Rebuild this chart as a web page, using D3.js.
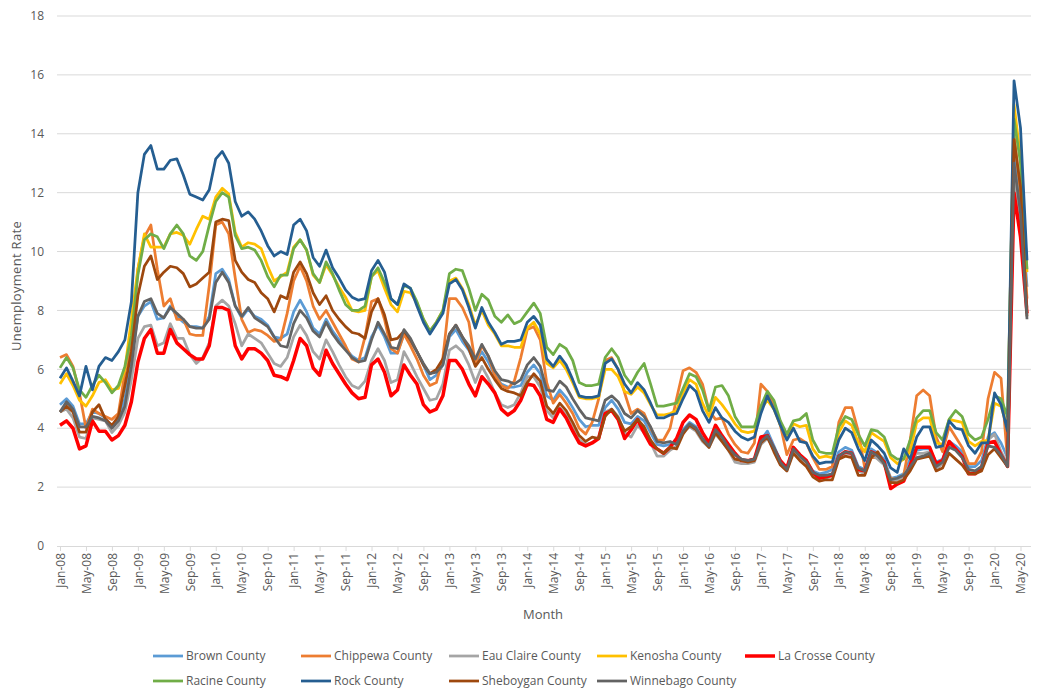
<!DOCTYPE html>
<html>
<head>
<meta charset="utf-8">
<script src="https://cdn.jsdelivr.net/npm/d3@7"></script>
<style>
  body { margin: 0; background: #fff; }
  #chart text { font-family: "Open Sans", "Liberation Sans", sans-serif; fill: #595959; }
</style>
</head>
<body>
<div id="chart"></div>
<script>
// monthly unemployment rate, Jan-08 .. Jun-20 (one row per year)
const brown = [
  4.8, 5.0, 4.75, 4.15, 4.15, 4.55, 4.5, 4.35, 4.05, 4.35, 5.0, 6.35,
  7.8, 8.15, 8.3, 7.7, 7.75, 8.15, 7.8, 7.6, 7.45, 7.45, 7.4, 7.8,
  9.25, 9.4, 9.05, 8.15, 7.75, 8.05, 7.8, 7.7, 7.5, 7.1, 7.05, 7.2,
  7.95, 8.35, 7.95, 7.4, 7.2, 7.7, 7.3, 7.0, 6.7, 6.45, 6.3, 6.4,
  7.1, 7.5, 7.1, 6.55, 6.55, 7.2, 6.95, 6.6, 6.15, 5.65, 5.8, 6.15,
  7.1, 7.35, 6.95, 6.65, 6.2, 6.6, 6.25, 5.8, 5.5, 5.4, 5.4, 5.45,
  5.9, 6.15, 5.85, 5.1, 4.95, 5.3, 5.05, 4.7, 4.3, 4.05, 4.1, 4.1,
  4.7, 4.95, 4.65, 4.2, 4.15, 4.4, 4.25, 3.85, 3.45, 3.4, 3.45, 3.5,
  3.95, 4.2, 4.05, 3.65, 3.4, 3.95, 3.7, 3.35, 3.1, 2.95, 2.9, 2.95,
  3.6, 3.9, 3.4, 2.9, 2.65, 3.35, 3.1, 2.9, 2.55, 2.45, 2.5, 2.6,
  3.2, 3.35, 3.25, 2.7, 2.6, 3.3, 3.15, 2.95, 2.3, 2.35, 2.45, 2.95,
  3.25, 3.3, 3.3, 2.85, 2.95, 3.55, 3.4, 3.2, 2.7, 2.7, 2.9, 3.7,
  3.85, 3.5, 3.0, 13.5, 11.8, 8.8
];
const chippewa = [
  6.4, 6.5, 6.1, 5.2, 4.0, 4.65, 4.5, 4.4, 4.3, 4.5, 5.9, 6.8,
  9.4, 10.5, 10.9, 9.4, 8.15, 8.4, 7.7, 7.7, 7.2, 7.15, 7.15, 8.85,
  10.9, 11.0, 10.6, 9.1, 7.7, 7.25, 7.35, 7.3, 7.15, 6.95, 7.0, 7.9,
  9.0, 9.5, 9.0, 8.15, 7.7, 8.0, 7.6, 7.2, 6.8, 6.35, 6.25, 7.1,
  8.3, 8.4, 7.7, 6.7, 6.55, 7.2, 6.8, 6.35, 5.8, 5.45, 5.55, 6.4,
  8.4, 8.4, 8.1, 7.6, 6.2, 6.8, 6.45, 5.8, 5.45, 5.35, 5.6, 6.4,
  7.35, 7.45, 7.0, 5.55, 4.85, 5.15, 4.85, 4.5, 4.0, 3.8, 4.2, 5.0,
  6.3, 6.4, 6.0, 5.2, 4.5, 4.65, 4.5, 4.0, 3.6, 3.6, 4.0, 5.0,
  5.95, 6.05, 5.9, 5.5, 4.6, 4.3, 4.35, 3.8, 3.45, 3.2, 3.15, 3.5,
  5.5, 5.25, 4.8, 4.1, 3.1, 3.6, 3.65, 3.5, 3.0, 2.6, 2.6, 2.7,
  4.2, 4.7, 4.7, 3.9, 2.65, 3.0, 3.0, 2.8, 2.3, 2.25, 2.4, 3.6,
  5.1, 5.3, 5.1, 3.7, 3.2, 4.05, 3.7, 3.35, 2.8, 2.8, 3.2, 5.0,
  5.9, 5.7, 2.9, 14.0, 12.0, 8.4
];
const eauClaire = [
  4.55, 4.65, 4.35, 3.7, 3.65, 4.35, 4.3, 4.25, 3.85, 4.1, 4.55, 5.65,
  7.05, 7.45, 7.5, 6.8, 6.9, 7.55, 7.05, 7.05, 6.5, 6.2, 6.4, 6.9,
  8.15, 8.35, 8.15, 7.55, 6.8, 7.2, 7.05, 6.9, 6.55, 6.2, 6.1, 6.4,
  7.1, 7.5, 7.15, 6.6, 6.35, 7.0, 6.6, 6.15, 5.75, 5.45, 5.35, 5.6,
  6.3, 6.7, 6.3, 5.55, 5.65, 6.6, 6.2, 5.75, 5.35, 4.95, 5.0, 5.5,
  6.65, 6.8, 6.6, 6.15, 5.55, 6.1, 5.7, 5.2, 4.8, 4.7, 4.8, 5.2,
  5.75, 5.75, 5.4, 4.6, 4.35, 4.7, 4.45, 4.0, 3.6, 3.45, 3.5, 3.7,
  4.55, 4.65, 4.4, 3.85, 3.7, 4.1, 3.85, 3.5, 3.05, 3.05, 3.25, 3.4,
  3.85, 4.05, 3.9, 3.55, 3.35, 3.8, 3.55, 3.25, 2.85, 2.8, 2.8, 2.85,
  3.45, 3.65, 3.3, 2.8, 2.55, 3.25, 3.0, 2.8, 2.4, 2.3, 2.3, 2.4,
  3.0, 3.15, 3.1, 2.55, 2.45, 3.1, 2.95, 2.75, 2.2, 2.25, 2.35, 2.8,
  3.15, 3.15, 3.2, 2.6, 2.8, 3.4, 3.3, 3.05, 2.55, 2.5, 2.7, 3.6,
  3.8, 3.2, 2.8, 12.7, 11.0, 8.1
];
const kenosha = [
  5.5, 5.85, 5.45, 4.95, 4.75, 5.1, 5.55, 5.65, 5.3, 5.35, 6.0, 7.7,
  9.4, 10.6, 10.15, 10.15, 10.15, 10.6, 10.65, 10.55, 10.25, 10.75, 11.2, 11.1,
  11.85, 12.15, 11.95, 10.65, 10.15, 10.3, 10.25, 10.1, 9.5, 9.0, 9.15, 9.3,
  10.15, 10.4, 10.05, 9.2, 8.95, 9.55, 9.2, 8.8, 8.45, 8.0, 7.95, 8.0,
  9.15, 9.35, 8.75, 8.2, 7.95, 8.65, 8.6, 8.25, 7.7, 7.3, 7.6, 8.0,
  9.0, 9.1, 8.75, 8.2, 7.5, 8.0, 7.5, 7.2, 6.8, 6.8, 6.75, 6.75,
  7.4, 7.6, 7.2, 6.2, 6.05, 6.3, 6.0, 5.55, 5.05, 5.0, 5.0, 5.05,
  6.0, 6.0, 5.75, 5.25, 5.15, 5.4, 5.2, 4.8, 4.45, 4.45, 4.5, 4.6,
  5.2, 5.65, 5.5, 4.85, 4.4, 5.05, 4.8, 4.5, 4.15, 3.9, 3.85, 3.9,
  4.65, 4.95, 4.65, 4.1, 3.7, 4.15, 4.05, 4.1, 3.3, 3.0, 3.05, 3.0,
  3.85, 4.25, 4.1, 3.5, 3.2, 3.85, 3.7, 3.55, 3.0, 2.8, 2.95, 3.2,
  4.2, 4.35, 4.35, 3.5, 3.45, 4.3, 4.25, 4.2, 3.55, 3.4, 3.55, 3.6,
  4.85, 4.75, 4.0, 15.0, 13.2, 9.3
];
const laCrosse = [
  4.1, 4.25, 4.0, 3.3, 3.4, 4.25, 3.9, 3.9, 3.6, 3.75, 4.1, 4.9,
  6.25, 7.05, 7.35, 6.55, 6.55, 7.35, 6.9, 6.7, 6.5, 6.35, 6.35, 6.8,
  8.1, 8.1, 8.0, 6.8, 6.35, 6.7, 6.7, 6.55, 6.3, 5.8, 5.75, 5.65,
  6.3, 7.05, 6.8, 6.05, 5.8, 6.65, 6.2, 5.85, 5.5, 5.2, 5.0, 5.05,
  6.15, 6.35, 5.9, 5.1, 5.3, 6.15, 5.8, 5.5, 4.8, 4.55, 4.65, 5.1,
  6.3, 6.3, 6.0, 5.5, 5.1, 5.75, 5.5, 5.2, 4.65, 4.45, 4.6, 4.95,
  5.5, 5.45, 5.1, 4.3, 4.2, 4.65, 4.35, 3.9, 3.5, 3.4, 3.5, 3.65,
  4.5, 4.6, 4.3, 3.65, 3.95, 4.3, 3.85, 3.45, 3.3, 3.15, 3.35, 3.65,
  4.2, 4.45, 4.3, 3.85, 3.5, 4.1, 3.75, 3.45, 3.15, 2.9, 2.9, 2.95,
  3.7, 3.75, 3.3, 2.9, 2.65, 3.35, 3.1, 2.9, 2.5, 2.3, 2.35, 2.4,
  3.05, 3.2, 3.15, 2.6, 2.55, 3.2, 3.1, 2.85, 1.95, 2.1, 2.2, 2.75,
  3.35, 3.35, 3.35, 2.8, 2.9, 3.55, 3.3, 3.05, 2.45, 2.45, 2.65, 3.5,
  3.55, 3.1, 2.7, 12.0, 10.5, 7.9
];
const racine = [
  6.05, 6.4, 6.05, 5.3, 5.05, 5.45, 5.8, 5.55, 5.2, 5.45, 6.1, 7.15,
  9.2, 10.4, 10.6, 10.5, 10.1, 10.6, 10.9, 10.6, 9.85, 9.7, 10.0, 10.9,
  11.7, 12.0, 11.85, 10.55, 10.1, 10.15, 10.05, 9.7, 9.15, 8.8, 9.2, 9.2,
  10.1, 10.4, 10.05, 9.25, 8.95, 9.65, 9.25, 8.7, 8.2, 8.0, 8.0, 8.15,
  9.15, 9.45, 8.95, 8.4, 8.2, 8.85, 8.75, 8.3, 7.7, 7.3, 7.6, 8.0,
  9.25, 9.4, 9.35, 8.75, 8.0, 8.55, 8.35, 7.8, 7.6, 7.85, 7.55, 7.65,
  7.95, 8.25, 7.9, 6.75, 6.5, 6.85, 6.7, 6.3, 5.55, 5.45, 5.45, 5.5,
  6.4, 6.7, 6.4, 5.8, 5.5, 5.9, 6.2, 5.5, 4.75, 4.75, 4.8, 4.85,
  5.35, 5.85, 5.75, 5.3, 4.6, 5.4, 5.45, 5.1, 4.4, 4.05, 4.05, 4.05,
  4.75, 5.25, 4.95, 4.25, 3.8, 4.25, 4.3, 4.5, 3.6, 3.2, 3.15, 3.15,
  4.05, 4.4, 4.3, 3.8, 3.4, 3.95, 3.9, 3.7, 3.1, 2.95, 2.95, 3.6,
  4.35, 4.6, 4.6, 3.85, 3.6, 4.3, 4.6, 4.4, 3.8, 3.6, 3.7, 4.3,
  5.1, 5.0, 4.4, 14.5, 13.0, 9.4
];
const rock = [
  5.7, 6.05, 5.6, 5.1, 6.1, 5.3, 6.1, 6.4, 6.3, 6.6, 7.0, 8.3,
  12.0, 13.3, 13.6, 12.8, 12.8, 13.1, 13.15, 12.6, 11.95, 11.85, 11.75, 12.1,
  13.15, 13.4, 13.0, 11.7, 11.2, 11.35, 11.1, 10.7, 10.2, 9.85, 10.0, 9.9,
  10.9, 11.1, 10.7, 9.8, 9.5, 10.05, 9.45, 9.1, 8.7, 8.45, 8.35, 8.4,
  9.35, 9.7, 9.3, 8.4, 8.2, 8.9, 8.75, 8.15, 7.6, 7.2, 7.55, 7.9,
  8.9, 9.05, 8.7, 8.1, 7.4, 8.1, 7.6, 7.25, 6.85, 6.95, 6.95, 7.0,
  7.6, 7.8, 7.5, 6.35, 6.1, 6.45, 6.15, 5.65, 5.1, 5.05, 5.05, 5.1,
  6.2, 6.35, 6.0, 5.5, 5.2, 5.55, 5.3, 4.85, 4.35, 4.35, 4.45, 4.5,
  5.0, 5.45, 5.25, 4.6, 4.2, 4.7, 4.35, 4.2, 3.9, 3.7, 3.6, 3.7,
  4.5, 5.1, 4.65, 4.1, 3.6, 4.0, 3.55, 3.5, 3.05, 2.8, 2.85, 2.85,
  3.6, 4.0, 3.85, 3.3, 2.9, 3.6, 3.4, 3.15, 2.65, 2.5, 3.3, 2.95,
  3.7, 4.05, 4.05, 3.35, 3.4, 4.25, 4.0, 3.95, 3.4, 3.15, 3.5, 3.5,
  5.2, 4.8, 3.9, 15.8, 14.2, 9.7
];
const sheboygan = [
  4.55, 4.75, 4.55, 3.87, 3.87, 4.55, 4.8, 4.3, 4.1, 4.4, 5.45, 6.6,
  8.5, 9.5, 9.85, 9.05, 9.3, 9.5, 9.45, 9.25, 8.8, 8.9, 9.1, 9.3,
  11.0, 11.1, 11.05, 9.7, 9.3, 9.05, 8.95, 8.6, 8.4, 7.95, 8.5, 8.4,
  9.3, 9.65, 9.25, 8.6, 8.2, 8.5, 8.0, 7.7, 7.45, 7.25, 7.2, 7.05,
  7.95, 8.4, 7.85, 7.0, 7.05, 7.3, 7.0, 6.6, 6.15, 5.85, 6.0, 6.35,
  7.2, 7.5, 7.1, 6.7, 6.1, 6.4, 6.0, 5.65, 5.35, 5.25, 5.2, 5.1,
  5.55, 5.85, 5.6, 4.75, 4.5, 4.85, 4.6, 4.2, 3.75, 3.55, 3.7, 3.65,
  4.4, 4.65, 4.35, 3.9, 4.05, 4.3, 4.05, 3.6, 3.3, 3.15, 3.35, 3.3,
  3.8, 4.1, 3.95, 3.6, 3.35, 3.85, 3.55, 3.25, 2.95, 2.9, 2.85, 2.9,
  3.5, 3.7, 3.2, 2.75, 2.55, 3.15, 2.9, 2.7, 2.35, 2.2, 2.25, 2.25,
  2.95, 3.05, 3.0, 2.4, 2.4, 3.0, 3.2, 2.8, 2.15, 2.15, 2.25, 2.55,
  2.95, 3.0, 3.05, 2.55, 2.65, 3.15, 2.95, 2.75, 2.45, 2.45, 2.55, 3.1,
  3.3, 3.0, 2.7, 13.8, 12.2, 7.8
];
const winnebago = [
  4.55, 4.9, 4.65, 4.05, 4.05, 4.4, 4.35, 4.25, 4.0, 4.25, 4.75, 6.1,
  7.8, 8.3, 8.4, 7.9, 7.75, 8.1, 7.9, 7.7, 7.45, 7.4, 7.4, 7.7,
  8.95, 9.3, 8.95, 8.15, 7.8, 8.1, 7.75, 7.6, 7.45, 7.1, 6.8, 6.75,
  7.55, 8.0, 7.75, 7.3, 7.1, 7.6, 7.2, 6.9, 6.65, 6.4, 6.25, 6.3,
  7.0, 7.6, 7.2, 6.75, 6.7, 7.35, 7.05, 6.6, 6.2, 5.85, 5.9, 6.15,
  7.2, 7.5, 7.1, 6.8, 6.35, 6.85, 6.45, 5.95, 5.65, 5.6, 5.5, 5.65,
  6.15, 6.4, 6.1, 5.3, 5.25, 5.6, 5.4, 5.0, 4.65, 4.35, 4.3, 4.25,
  4.95, 5.1, 4.9, 4.5, 4.35, 4.6, 4.4, 4.05, 3.55, 3.5, 3.55, 3.45,
  3.9, 4.15, 4.0, 3.65, 3.4, 3.95, 3.7, 3.35, 3.1, 2.95, 2.9, 2.95,
  3.55, 3.75, 3.35, 2.85, 2.6, 3.3, 3.05, 2.85, 2.5, 2.4, 2.4, 2.45,
  3.05, 3.2, 3.15, 2.65, 2.55, 3.2, 3.05, 2.8, 2.25, 2.3, 2.4, 2.7,
  3.0, 3.05, 3.15, 2.7, 2.85, 3.35, 3.25, 3.0, 2.6, 2.55, 2.7, 3.4,
  3.35, 3.1, 2.7, 13.0, 11.3, 7.7
];

const counties = ["Brown County", "Chippewa County", "Eau Claire County", "Kenosha County", "La Crosse County",
                  "Racine County", "Rock County", "Sheboygan County", "Winnebago County"];
const seriesValues = [brown, chippewa, eauClaire, kenosha, laCrosse, racine, rock, sheboygan, winnebago];
const colors = ["#5B9BD5", "#ED7D31", "#A5A5A5", "#FFC000", "#FF0000", "#70AD47", "#255E91", "#9E480E", "#636363"];
const yTicks = [0, 2, 4, 6, 8, 10, 12, 14, 16, 18];

// month labels Jan-08 .. Jun-20
const fmt = d3.timeFormat("%b-%y");
const months = d3.timeMonths(new Date(2008, 0, 1), new Date(2020, 6, 1)).map(fmt);

const width = 1037, height = 691;
const svg = d3.select("#chart").append("svg")
    .attr("width", width)
    .attr("height", height);

const x = d3.scalePoint().domain(months).range([60, 1027]);
const y = d3.scaleLinear().domain([0, 18]).range([546, 16]);

// gridlines
svg.append("g")
    .selectAll("line")
    .data(yTicks.slice(1))
    .enter().append("line")
    .attr("x1", 57).attr("x2", 1031)
    .attr("y1", d => y(d)).attr("y2", d => y(d))
    .style("stroke", "#d9d9d9")
    .style("stroke-width", 1);

// y labels
svg.append("g")
    .selectAll("text")
    .data(yTicks)
    .enter().append("text")
    .attr("x", 44)
    .attr("y", d => y(d))
    .attr("dy", "0.35em")
    .attr("text-anchor", "end")
    .style("font-size", "12px")
    .text(d => d);

// x axis
const xAxis = svg.append("g")
    .attr("transform", "translate(0,546)")
    .call(d3.axisBottom(x)
        .tickValues(months.filter((d, i) => i % 4 === 0))
        .tickSize(5)
        .tickPadding(3));
xAxis.select(".domain").attr("d", "M57,0.5H1031").style("stroke", "#d9d9d9");
xAxis.selectAll(".tick line").style("stroke", "#d9d9d9");
xAxis.selectAll(".tick text")
    .attr("transform", "rotate(-90)")
    .attr("x", -7)
    .attr("y", 0)
    .attr("dy", "0.35em")
    .attr("text-anchor", "end")
    .style("font-size", "12px")
    .style("font-family", "'Open Sans', 'Liberation Sans', sans-serif")
    .style("fill", "#595959");

// axis titles
svg.append("text")
    .attr("x", 543).attr("y", 619)
    .attr("text-anchor", "middle")
    .style("font-size", "13px")
    .text("Month");

svg.append("text")
    .attr("transform", "translate(21,286) rotate(-90)")
    .attr("text-anchor", "middle")
    .style("font-size", "13px")
    .style("letter-spacing", "0.3px")
    .text("Unemployment Rate");

// lines
const line = d3.line()
    .x((d, i) => x(months[i]))
    .y(d => y(d));

svg.append("g")
    .selectAll("path")
    .data(seriesValues)
    .enter().append("path")
    .attr("d", d => line(d))
    .style("fill", "none")
    .style("stroke", (d, i) => colors[i])
    .style("stroke-width", (d, i) => i === 4 ? 3.5 : 2.75)
    .style("stroke-linejoin", "round");

// legend, two rows
const legend = svg.append("g")
    .selectAll("g")
    .data(counties)
    .enter().append("g")
    .attr("transform", (d, i) => `translate(${153 + (i % 5) * 148},${i < 5 ? 656 : 681})`);

legend.append("line")
    .attr("x1", 0).attr("x2", 30)
    .style("stroke", (d, i) => colors[i])
    .style("stroke-width", (d, i) => i === 4 ? 3.5 : 2.75);

legend.append("text")
    .attr("x", 33)
    .attr("dy", "0.35em")
    .style("font-size", "12px")
    .text(d => d);
</script>
</body>
</html>
